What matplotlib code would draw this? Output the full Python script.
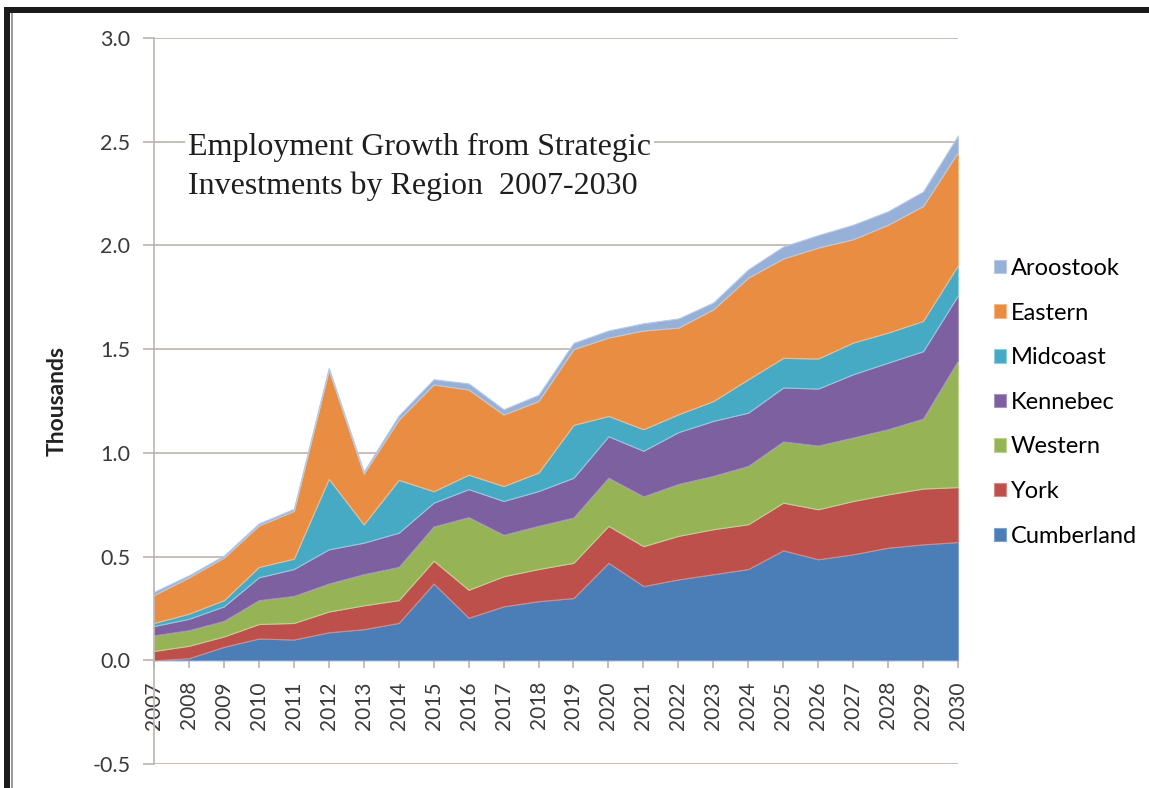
import matplotlib.pyplot as plt
from matplotlib.patches import Rectangle
import numpy as np

plt.rcParams['font.family'] = ['Lato', 'DejaVu Sans']

# jobs added per region, thousands (each row stacks on the one before)
years = list(range(2007, 2031))
cumberland = [0.00, 0.01, 0.065, 0.105, 0.10, 0.135, 0.15, 0.18, 0.37, 0.205, 0.26, 0.285,
              0.30, 0.47, 0.358, 0.39, 0.415, 0.44, 0.53, 0.487, 0.511, 0.543, 0.559, 0.57]
york = [0.045, 0.06, 0.05, 0.07, 0.08, 0.10, 0.115, 0.11, 0.11, 0.135, 0.145, 0.155,
        0.17, 0.178, 0.192, 0.21, 0.217, 0.216, 0.23, 0.241, 0.257, 0.257, 0.269, 0.265]
western = [0.075, 0.075, 0.075, 0.115, 0.13, 0.135, 0.15, 0.16, 0.165, 0.35, 0.20, 0.208,
           0.218, 0.232, 0.24, 0.25, 0.257, 0.281, 0.295, 0.307, 0.306, 0.314, 0.337, 0.61]
kennebec = [0.045, 0.055, 0.07, 0.11, 0.13, 0.165, 0.152, 0.165, 0.115, 0.135, 0.163, 0.168,
            0.192, 0.20, 0.22, 0.25, 0.265, 0.257, 0.26, 0.275, 0.305, 0.321, 0.325, 0.315]
midcoast = [0.015, 0.025, 0.03, 0.05, 0.05, 0.34, 0.088, 0.255, 0.055, 0.07, 0.072, 0.089,
            0.255, 0.098, 0.104, 0.086, 0.096, 0.161, 0.143, 0.145, 0.153, 0.145, 0.146, 0.145]
eastern = [0.135, 0.175, 0.205, 0.20, 0.23, 0.525, 0.245, 0.29, 0.515, 0.41, 0.345, 0.345,
           0.365, 0.378, 0.476, 0.418, 0.442, 0.49, 0.479, 0.535, 0.498, 0.52, 0.554, 0.545]
aroostook = [0.015, 0.01, 0.01, 0.01, 0.01, 0.01, 0.01, 0.02, 0.025, 0.03, 0.025, 0.03,
             0.03, 0.034, 0.035, 0.044, 0.033, 0.04, 0.058, 0.06, 0.07, 0.065, 0.07, 0.08]

regions = ['Cumberland', 'York', 'Western', 'Kennebec', 'Midcoast', 'Eastern', 'Aroostook']
colors = ['#4B7DB6', '#BE504B', '#96B455', '#7D60A0', '#47AAC4', '#E98D42', '#96B0D8']
edges = ['#7fa3d1', '#d68a88', '#bcd38f', '#a693c0', '#8ccde0', '#f5b887', '#b9cbe4']

W, H = 1149, 788
fig = plt.figure(figsize=(W / 100, H / 100), dpi=100)
ax = fig.add_axes([154 / W, 1 - 764 / H, 804 / W, 726 / H])

polys = ax.stackplot(years, cumberland, york, western, kennebec, midcoast, eastern, aroostook,
                     colors=colors, labels=regions, linewidth=0.8)
for p, ec in zip(polys, edges):
    p.set_edgecolor(ec)

grid_c = '#bdb3ae'
ax.set_xlim(2007, 2030)
ax.set_ylim(-0.5, 3.0)
ax.set_yticks(np.arange(-0.5, 3.01, 0.5))
ax.set_yticklabels(['%.1f' % v for v in np.arange(-0.5, 3.01, 0.5)])
ax.yaxis.grid(True, color=grid_c, linewidth=1.2)
ax.set_axisbelow(True)

for s in ['top', 'right']:
    ax.spines[s].set_visible(False)
ax.spines['left'].set_color(grid_c)
ax.spines['left'].set_linewidth(1.2)
ax.spines['bottom'].set_position(('data', 0))
ax.spines['bottom'].set_color(grid_c)
ax.spines['bottom'].set_linewidth(1.2)
ax.spines['bottom'].set_zorder(0.5)

ax.set_xticks(years)
ax.set_xticklabels([str(y) for y in years], rotation=90)
ax.tick_params(axis='x', direction='out', length=6, width=1.2, color=grid_c,
               pad=9, labelsize=15, labelcolor='#3a3a3a')
ax.tick_params(axis='y', direction='out', length=8, width=1.2, color=grid_c,
               pad=9, labelsize=15.5, labelcolor='#3a3a3a')

ax.set_ylabel('Thousands', fontsize=16.5, fontweight='bold', color='#222222')
ax.yaxis.set_label_coords(-0.107, 0.5)

fig.text(188 / W, 1 - 133 / H, 'Employment Growth from Strategic\nInvestments by Region  2007-2030',
         family='Liberation Serif', fontsize=23, color='#1e1e1e', va='top', ha='left',
         linespacing=1.42, bbox=dict(facecolor='white', edgecolor='none', pad=2))

h, l = ax.get_legend_handles_labels()
ax.legend(h[::-1], l[::-1], loc='upper left', bbox_to_anchor=(994 / W, 1 - 258 / H),
          bbox_transform=fig.transFigure, frameon=False, fontsize=17,
          handlelength=0.5, handleheight=0.5, handletextpad=0.2,
          labelspacing=1.0, borderpad=0, borderaxespad=0)

# black frame on top and left edges
fig.add_artist(Rectangle((4 / W, 0), 6 / W, 1 - 7 / H, transform=fig.transFigure,
                         facecolor='#1a1a1a', edgecolor='none'))
fig.add_artist(Rectangle((4 / W, 1 - 13 / H), 1, 6 / H, transform=fig.transFigure,
                         facecolor='#1a1a1a', edgecolor='none'))
fig.add_artist(Rectangle((11 / W, 0), 2 / W, 1 - 13 / H, transform=fig.transFigure,
                         facecolor='#9a9a9a', edgecolor='none'))

fig.savefig('out.png', dpi=100)
